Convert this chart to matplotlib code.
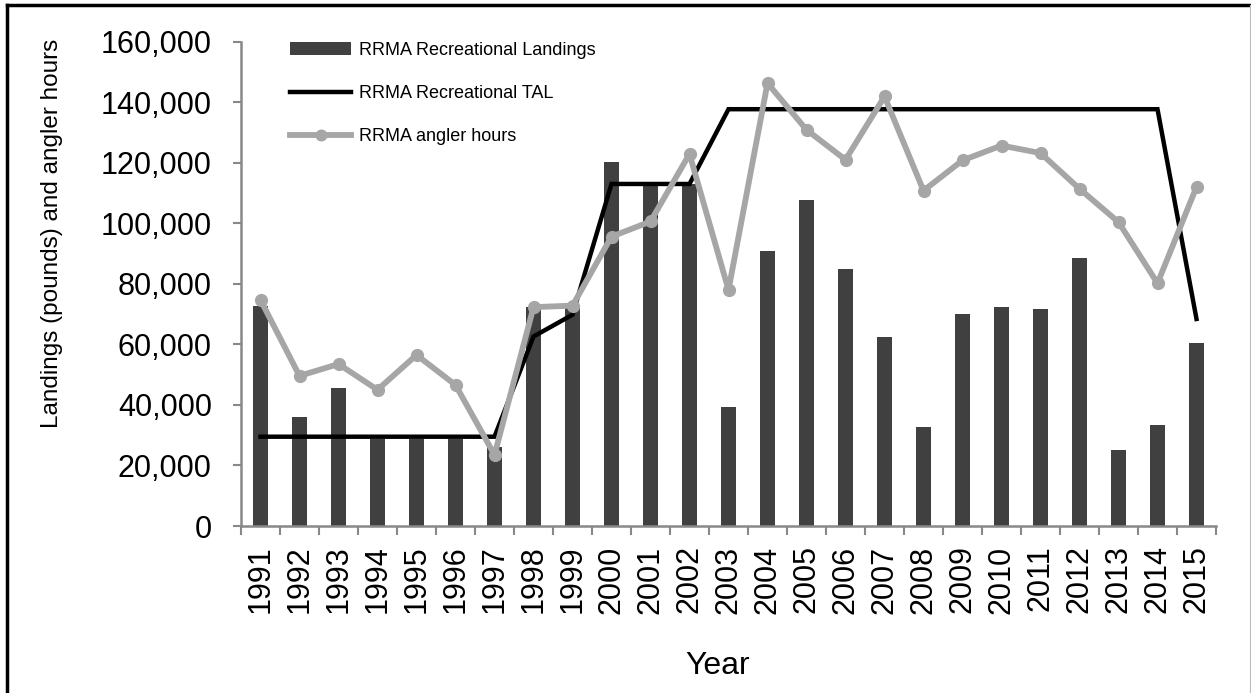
import matplotlib
matplotlib.use("Agg")
import matplotlib.pyplot as plt
from matplotlib.lines import Line2D
from matplotlib.ticker import FuncFormatter, FixedLocator
import numpy as np

years = [str(y) for y in range(1991, 2016)]
landings = [72700, 36000, 45500, 28800, 28800, 28800, 26000, 72300, 72000,
            120100, 112500, 113000, 39200, 90700, 107700, 84900, 62600, 32800,
            69900, 72500, 71800, 88500, 25100, 33500, 60400]
tal = [29500, 29500, 29500, 29500, 29500, 29500, 29500, 62600, 69800,
       113000, 113000, 113000, 137700, 137700, 137700, 137700, 137700, 137700,
       137700, 137700, 137700, 137700, 137700, 137700, 68400]
angler_hours = [74700, 49600, 53500, 45000, 56500, 46600, 23500, 72300, 72800,
                95600, 100600, 122900, 78000, 146300, 130900, 121000, 141900, 110800,
                120800, 125700, 123200, 111400, 100400, 80200, 112000]

plt.rcParams["font.family"] = ["Liberation Sans", "DejaVu Sans"]

W, H = 1251, 693
fig = plt.figure(figsize=(W / 100, H / 100), dpi=100)
ax = fig.add_axes([241 / W, 1 - 526 / H, 975 / W, (526 - 41.7) / H])

x = np.arange(len(years))
axis_grey = "#888888"

bars = ax.bar(x, landings, width=0.4, color="#404040", label="RRMA Recreational Landings", zorder=2)
tal_line, = ax.plot(x, tal, color="black", lw=3.2, solid_joinstyle="miter",
                    label="RRMA Recreational TAL", zorder=3)
hours_line, = ax.plot(x, angler_hours, color="#a6a6a6", lw=4.2, marker="o", markersize=8.5,
                      label="RRMA angler hours", zorder=4)

ax.set_xlim(-0.5, len(years) - 0.5)
ax.set_ylim(0, 160000)
ax.set_yticks(range(0, 160001, 20000))
ax.yaxis.set_major_formatter(FuncFormatter(lambda v, p: f"{int(v):,}"))

# category boundaries get the tick marks, labels sit at the centres
ax.xaxis.set_major_locator(FixedLocator(np.arange(-0.5, len(years), 1.0)))
ax.xaxis.set_minor_locator(FixedLocator(x))
ax.set_xticklabels([])
ax.set_xticklabels(years, minor=True, rotation=90, fontsize=22)
ax.tick_params(axis="x", which="major", length=6.5, width=1.5, color=axis_grey, direction="out")
ax.tick_params(axis="x", which="minor", length=0, pad=14)
ax.tick_params(axis="y", length=6, width=1.5, color=axis_grey, labelsize=22, pad=15)

for side in ["top", "right"]:
    ax.spines[side].set_visible(False)
for side in ["left", "bottom"]:
    ax.spines[side].set_color(axis_grey)
    ax.spines[side].set_linewidth(1.8)

ax.set_ylabel("Landings (pounds) and angler hours", fontsize=17.5)
ax.yaxis.set_label_coords(-0.183, 0.605)
ax.set_xlabel("Year", fontsize=23)
ax.xaxis.set_label_coords(0.4887, -0.258)

ax.legend(handles=[bars, tal_line, hours_line],
          loc="upper left", bbox_to_anchor=(290 / W, 1 - 42 / H),
          bbox_transform=fig.transFigure, frameon=False, fontsize=13,
          borderpad=0, borderaxespad=0, handlelength=3.4, handletextpad=0.4,
          labelspacing=1.45, markerscale=0.9)

# outer frame of the exported picture
fig.add_artist(Line2D([7 / W, 7 / W], [0, 1 - 5 / H], color="black", lw=2.5))
fig.add_artist(Line2D([7 / W, 1249 / W], [1 - 5 / H, 1 - 5 / H], color="black", lw=2.5))
fig.add_artist(Line2D([1249.5 / W, 1249.5 / W], [0, 1 - 5 / H], color="#bbbbbb", lw=0.8))

fig.savefig("out.png", dpi=100, facecolor="white")
